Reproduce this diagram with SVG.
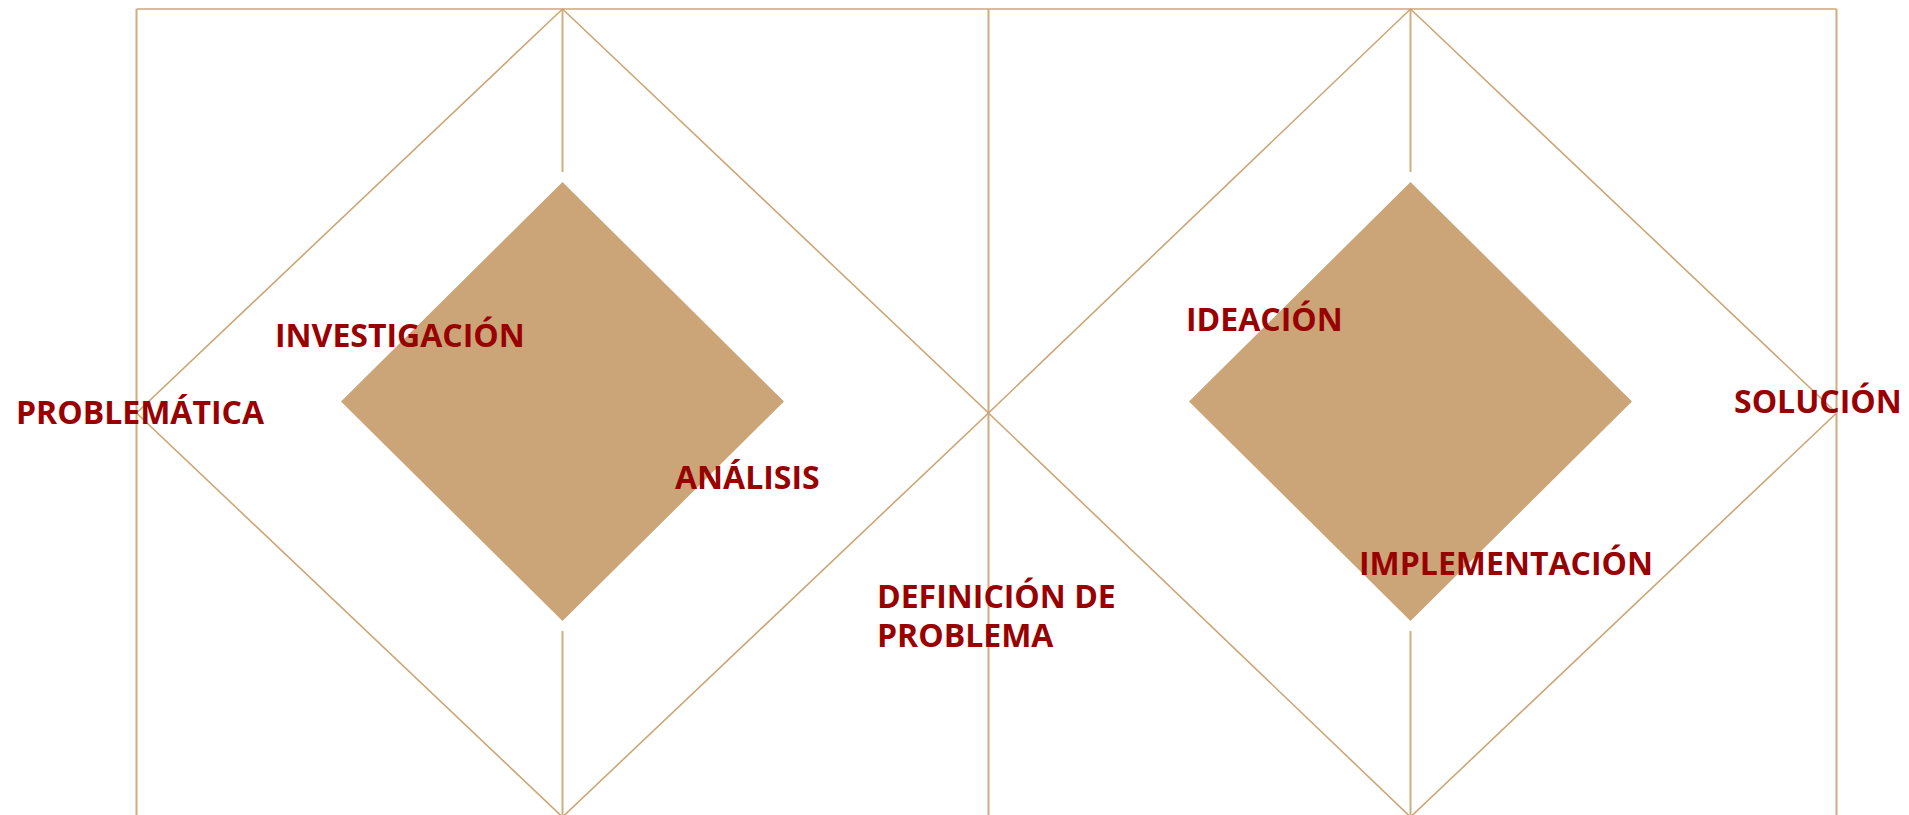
<svg xmlns="http://www.w3.org/2000/svg" width="1909" height="815" viewBox="0 0 1909 815">
<style>
.ln{stroke:#CDA677;stroke-width:1.6;fill:none}
.vl{stroke:#D2AC7E;stroke-width:2;fill:none}
.dm{fill:#CBA577}
.lb{font-family:"Open Sans","Liberation Sans",sans-serif;font-weight:700;font-size:32px;fill:#990000}
</style>
<rect width="1909" height="815" fill="#FFFFFF"/>
<g id="connectors">
<line class="ln" x1="136.5" y1="9" x2="1836.5" y2="9"/>
<line class="vl" x1="136.5" y1="9" x2="136.5" y2="815"/>
<line class="vl" x1="988.5" y1="9" x2="988.5" y2="815"/>
<line class="vl" x1="1836.5" y1="9" x2="1836.5" y2="815"/>
<line class="vl" x1="562.5" y1="9" x2="562.5" y2="172"/>
<line class="vl" x1="562.5" y1="631" x2="562.5" y2="815"/>
<line class="vl" x1="1410.5" y1="9" x2="1410.5" y2="172"/>
<line class="vl" x1="1410.5" y1="631" x2="1410.5" y2="815"/>
<polygon class="ln" points="562.5,9 988.5,413 562.5,817 136.5,413"/>
<polygon class="ln" points="1410.5,9 1836.5,413 1410.5,817 988.5,413"/>
</g>
<g id="diamond-1"><polygon class="dm" points="562.5,182 784,401.5 562.5,621 341,401.5"/></g>
<g id="diamond-2"><polygon class="dm" points="1410.5,182 1632,401.5 1410.5,621 1189,401.5"/></g>
<g id="label-problematica"><text class="lb" x="16" y="424">PROBLEMÁTICA</text></g>
<g id="label-investigacion"><text class="lb" x="275" y="347">INVESTIGACIÓN</text></g>
<g id="label-analisis"><text class="lb" x="675" y="489">ANÁLISIS</text></g>
<g id="label-definicion"><text class="lb" x="877" y="608">DEFINICIÓN DE<tspan x="877" y="647">PROBLEMA</tspan></text></g>
<g id="label-ideacion"><text class="lb" x="1186" y="331">IDEACIÓN</text></g>
<g id="label-implementacion"><text class="lb" x="1359" y="575">IMPLEMENTACIÓN</text></g>
<g id="label-solucion"><text class="lb" x="1734" y="413">SOLUCIÓN</text></g>
</svg>
